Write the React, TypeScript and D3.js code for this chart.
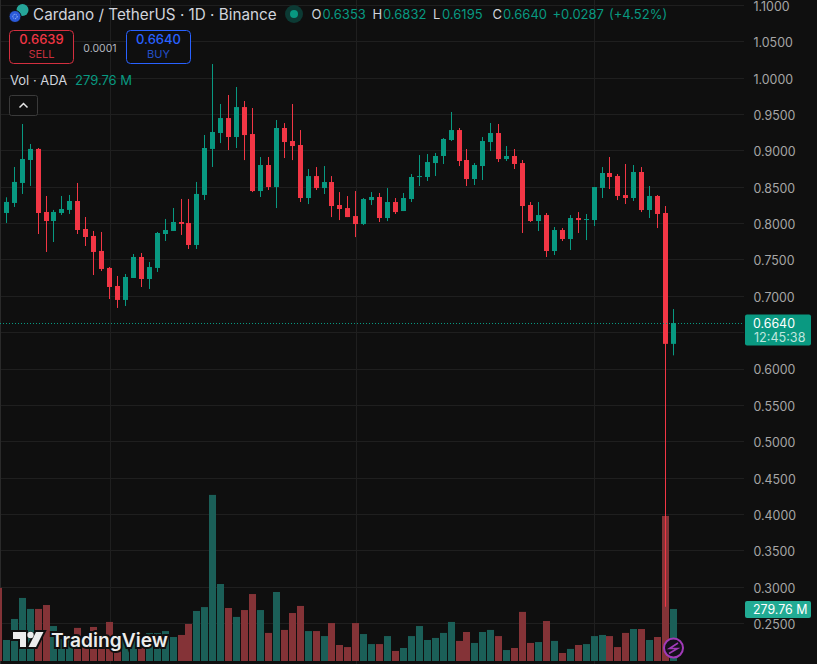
import { useEffect, useRef } from "react";
import * as d3 from "d3";

const opens = [
  0.8153, 0.8291, 0.8566, 0.8882, 0.9034, 0.8167, 0.8043, 0.8153, 0.8195, 0.8318,
  0.7933, 0.7837, 0.7631, 0.7397, 0.7149, 0.6957, 0.7259, 0.7548, 0.7245, 0.7397,
  0.7864, 0.7906, 0.8029, 0.8016, 0.7713, 0.8401, 0.9034, 0.9253, 0.9459, 0.9198,
  0.961, 0.9239, 0.8455, 0.8813, 0.851, 0.9322, 0.9143, 0.9088, 0.8359, 0.8661,
  0.8496, 0.8579, 0.8263, 0.8221, 0.8111, 0.8001, 0.8331, 0.8373, 0.8084, 0.8304,
  0.818, 0.8345, 0.8648, 0.8648, 0.884, 0.8937, 0.9157, 0.9294, 0.8882, 0.862,
  0.8799, 0.9129, 0.9253, 0.8895, 0.8937, 0.884, 0.8263, 0.8043, 0.8125, 0.763,
  0.7919, 0.7795, 0.8084, 0.8061, 0.8056, 0.8497, 0.8703, 0.8662, 0.84, 0.8359,
  0.8717, 0.8194, 0.8387, 0.8153, 0.6353,
];
const highs = [
  0.8369, 0.8786, 0.9377, 0.9102, 0.9047, 0.8387, 0.8195, 0.8387, 0.8401, 0.8566,
  0.8098, 0.7906, 0.7892, 0.741, 0.7287, 0.7314, 0.7589, 0.7603, 0.7479, 0.7892,
  0.8071, 0.8222, 0.8346, 0.8346, 0.858, 0.9226, 1.0202, 0.9652, 0.9776, 0.9886,
  0.9693, 0.9597, 0.8923, 0.8923, 0.9432, 0.939, 0.9652, 0.9294, 0.8758, 0.8785,
  0.8799, 0.8661, 0.8441, 0.8386, 0.8455, 0.8359, 0.8441, 0.8428, 0.8496, 0.8359,
  0.8428, 0.8689, 0.895, 0.8964, 0.8978, 0.9184, 0.9542, 0.9322, 0.9033, 0.884,
  0.9198, 0.9391, 0.9377, 0.9074, 0.9033, 0.8882, 0.8304, 0.8304, 0.8153, 0.796,
  0.7946, 0.8125, 0.8166, 0.8139, 0.851, 0.8785, 0.8923, 0.8689, 0.8827, 0.8813,
  0.8785, 0.8524, 0.84, 0.8249, 0.6832,
];
const lows = [
  0.8016, 0.8236, 0.8415, 0.8525, 0.7864, 0.7617, 0.7754, 0.8126, 0.814, 0.7864,
  0.7699, 0.73, 0.7355, 0.697, 0.6847, 0.6874, 0.7259, 0.7135, 0.7108, 0.7342,
  0.7768, 0.7906, 0.7851, 0.7658, 0.7658, 0.8332, 0.8786, 0.9115, 0.9019, 0.9047,
  0.8881, 0.8441, 0.8373, 0.8469, 0.8221, 0.8909, 0.8881, 0.8304, 0.8276, 0.8469,
  0.8414, 0.8097, 0.8056, 0.8097, 0.7822, 0.7987, 0.8263, 0.8029, 0.8042, 0.8139,
  0.818, 0.8304, 0.8524, 0.8593, 0.8662, 0.8827, 0.9143, 0.8799, 0.8524, 0.8538,
  0.8607, 0.9006, 0.8854, 0.8868, 0.8758, 0.7878, 0.8029, 0.7905, 0.7548, 0.7575,
  0.7768, 0.7644, 0.7878, 0.7781, 0.7974, 0.8359, 0.8483, 0.8331, 0.8277, 0.8318,
  0.8166, 0.8084, 0.7946, 0.2737, 0.6195,
];
const closes = [
  0.8305, 0.858, 0.8896, 0.9034, 0.8153, 0.8043, 0.8167, 0.8208, 0.8318, 0.7919,
  0.7823, 0.7617, 0.7383, 0.7135, 0.6957, 0.7273, 0.7548, 0.7245, 0.741, 0.7878,
  0.7919, 0.8029, 0.8002, 0.7713, 0.8415, 0.9047, 0.9267, 0.9459, 0.9198, 0.961,
  0.9225, 0.8455, 0.8813, 0.851, 0.9322, 0.9129, 0.9074, 0.8359, 0.8661, 0.8496,
  0.8579, 0.8249, 0.8208, 0.8097, 0.8001, 0.8345, 0.8373, 0.8084, 0.8304, 0.8166,
  0.8359, 0.8648, 0.8661, 0.8854, 0.8937, 0.9171, 0.9294, 0.8868, 0.862, 0.8813,
  0.9143, 0.9253, 0.8895, 0.8937, 0.8827, 0.8249, 0.8043, 0.8125, 0.763, 0.7919,
  0.7795, 0.8084, 0.8056, 0.807, 0.851, 0.8703, 0.8648, 0.8387, 0.8359, 0.8717,
  0.8194, 0.8387, 0.8139, 0.6353, 0.664,
];
// millions of ADA, the bars hidden behind the logo are estimates
const volumes = [
  113, 226, 339, 280, 280, 301, 188, 118, 118, 178,
  118, 183, 145, 210, 90, 118, 118, 74, 150, 150,
  161, 129, 140, 199, 269, 290, 893, 414, 285, 237,
  274, 360, 274, 151, 371, 167, 258, 296, 161, 161,
  134, 204, 86, 75, 204, 145, 91, 91, 134, 54,
  70, 134, 188, 113, 124, 151, 210, 108, 156, 97,
  156, 167, 134, 59, 70, 264, 97, 102, 215, 108,
  43, 65, 86, 91, 134, 140, 134, 75, 151, 172,
  172, 113, 129, 780, 279.76,
];
const clippedDayVolume = 393;
const priceTicks = [
  1.1, 1.05, 1.0, 0.95, 0.9, 0.85, 0.8, 0.75, 0.7, 0.65, 0.6, 0.55, 0.5, 0.45, 0.4,
  0.35, 0.3, 0.25,
];
const visibleTicks = priceTicks.filter((t) => t !== 0.65);
const gridDays = [13, 44, 74];
const lastPrice = 0.664;
const lastVolume = 279.76;

const UP = "#089981";
const DOWN = "#f23645";
const VOL_UP = "#1b5f58";
const VOL_DOWN = "#843337";
const BG = "#0f0f0f";
const GRID = "#1f1f1f";
const LABEL = "#d1d4dc";
const FONT = "Inter, 'Noto Sans', sans-serif";

const width = 817;
const height = 664;

export default function App() {
  const chartRef = useRef<SVGGElement>(null);

  useEffect(() => {
    const root = d3.select(chartRef.current);
    root.selectAll("*").remove();

    const y = d3.scaleLinear().domain([1.1, 0.25]).range([6, 624]);
    const yVol = d3.scaleLinear().domain([0, 1000]).range([661, 475]);
    const days = d3.range(-1, opens.length);
    const x = d3.scalePoint<number>().domain(days).range([-1.64, 673.5]);

    // grid
    const grid = root.append("g").attr("stroke", GRID);
    grid
      .selectAll("line.h")
      .data(priceTicks)
      .enter()
      .append("line")
      .attr("x1", 0)
      .attr("x2", 744)
      .attr("y1", (d) => Math.round(y(d)) - 0.5)
      .attr("y2", (d) => Math.round(y(d)) - 0.5);
    grid
      .selectAll("line.v")
      .data(gridDays)
      .enter()
      .append("line")
      .attr("x1", (d) => Math.round(x(d)!) + 0.5)
      .attr("x2", (d) => Math.round(x(d)!) + 0.5)
      .attr("y1", 0)
      .attr("y2", height);
    root
      .append("line")
      .attr("x1", 0.5)
      .attr("x2", 0.5)
      .attr("y1", 0)
      .attr("y2", height)
      .attr("stroke", "#2a2a2a");

    // volume
    const volGroup = root.append("g");
    volGroup
      .append("rect")
      .attr("x", Math.round(x(-1)! - 3.5))
      .attr("width", 7)
      .attr("y", yVol(clippedDayVolume))
      .attr("height", 661 - yVol(clippedDayVolume))
      .attr("fill", VOL_DOWN);
    volGroup
      .selectAll("rect.vol")
      .data(volumes)
      .enter()
      .append("rect")
      .attr("x", (_, i) => Math.round(x(i)! - 3.5))
      .attr("width", 7)
      .attr("y", (d) => yVol(d))
      .attr("height", (d) => 661 - yVol(d))
      .attr("fill", (_, i) => (closes[i] >= opens[i] ? VOL_UP : VOL_DOWN));

    // candles
    const candle = root
      .selectAll("g.candle")
      .data(opens)
      .enter()
      .append("g")
      .attr("fill", (o, i) => (closes[i] >= o ? UP : DOWN));
    candle
      .append("rect")
      .attr("x", (_, i) => Math.round(x(i)! - 2.5) + 2)
      .attr("width", 1)
      .attr("y", (_, i) => y(highs[i]))
      .attr("height", (_, i) => y(lows[i]) - y(highs[i]));
    candle
      .append("rect")
      .attr("x", (_, i) => Math.round(x(i)! - 2.5))
      .attr("width", 5)
      .attr("y", (o, i) => y(Math.max(o, closes[i])))
      .attr("height", (o, i) => Math.max(1, Math.abs(y(o) - y(closes[i]))));

    // last price line
    root
      .append("line")
      .attr("x1", 0)
      .attr("x2", 744)
      .attr("y1", Math.round(y(lastPrice)) + 0.5)
      .attr("y2", Math.round(y(lastPrice)) + 0.5)
      .attr("stroke", UP)
      .attr("stroke-dasharray", "1 2");

    // price axis
    const axis = d3
      .axisRight(y)
      .tickValues(visibleTicks)
      .tickFormat(d3.format(".4f") as any)
      .tickSize(0)
      .tickPadding(0);
    const axisGroup = root
      .append("g")
      .attr("transform", "translate(753.5,0.5)")
      .call(axis as any);
    axisGroup.select(".domain").remove();
    axisGroup
      .selectAll("text")
      .attr("fill", "#a6a6a6")
      .attr("font-family", FONT)
      .attr("font-size", 12.4);

    // price and volume tags
    const tags = root.append("g").attr("font-family", FONT);
    tags
      .append("rect")
      .attr("x", 745)
      .attr("y", y(lastPrice) - 8.5)
      .attr("width", 66)
      .attr("height", 31)
      .attr("rx", 2)
      .attr("fill", "#0a9981");
    tags
      .append("text")
      .attr("x", 753)
      .attr("y", y(lastPrice) + 5)
      .attr("font-size", 12.4)
      .attr("fill", "#fff")
      .text(d3.format(".4f")(lastPrice));
    tags
      .append("text")
      .attr("x", 754)
      .attr("y", y(lastPrice) + 19)
      .attr("font-size", 12.6)
      .attr("fill", "#bfe6df")
      .text("12:45:38");
    tags
      .append("rect")
      .attr("x", 745)
      .attr("y", yVol(lastVolume) - 8)
      .attr("width", 66)
      .attr("height", 17)
      .attr("rx", 2)
      .attr("fill", "#22ab94");
    tags
      .append("text")
      .attr("x", 753)
      .attr("y", yVol(lastVolume) + 5)
      .attr("font-size", 12.4)
      .attr("fill", "#fff")
      .text(`${lastVolume} M`);
  }, []);

  return (
    <svg
      width={width}
      height={height}
      style={{ position: "absolute", left: 0, top: 0, display: "block", background: BG }}
      fontFamily={FONT}
    >
      <g ref={chartRef} />

      {/* symbol icons */}
      <circle cx={22.5} cy={10} r={6} fill="#26a69a" />
      <circle cx={15} cy={16.5} r={6} fill="#2a5ada" stroke={BG} strokeWidth={1} />
      <circle cx={15} cy={16.5} r={2.2} fill="none" stroke="#cfe0ff" strokeWidth={0.8} strokeDasharray="1 1" />

      <text x={33} y={20} fontSize={15.25} fill={LABEL}>
        Cardano / TetherUS · 1D · Binance
      </text>
      <circle cx={294} cy={14} r={9} fill="#0c3a34" />
      <circle cx={294} cy={14} r={4} fill={UP} />
      <g fontSize={13} fill={UP}>
        <text x={311.5} y={19} fill={LABEL}>O</text>
        <text x={322.5} y={19}>0.6353</text>
        <text x={372.5} y={19} fill={LABEL}>H</text>
        <text x={383} y={19}>0.6832</text>
        <text x={433} y={19} fill={LABEL}>L</text>
        <text x={442} y={19}>0.6195</text>
        <text x={492.5} y={19} fill={LABEL}>C</text>
        <text x={503} y={19}>0.6640</text>
        <text x={552.5} y={19}>+0.0287</text>
        <text x={609} y={19}>(+4.52%)</text>
      </g>

      {/* sell / buy */}
      <rect x={9.5} y={30.5} width={64} height={33} rx={4} fill={BG} stroke="#d32f3f" />
      <text x={41.5} y={44} textAnchor="middle" fontSize={13} fontWeight={500} fill={DOWN}>
        0.6639
      </text>
      <text x={41.5} y={58} textAnchor="middle" fontSize={11} fill="#c9303e">
        SELL
      </text>
      <text x={100} y={51.5} textAnchor="middle" fontSize={10.5} fill="#b2b5be">
        0.0001
      </text>
      <rect x={126.5} y={30.5} width={64} height={33} rx={4} fill={BG} stroke="#2962ff" />
      <text x={158.5} y={44} textAnchor="middle" fontSize={13} fontWeight={500} fill="#2962ff">
        0.6640
      </text>
      <text x={158.5} y={58} textAnchor="middle" fontSize={11} fill="#2450c8">
        BUY
      </text>

      <text x={10} y={85} fontSize={13} fill={LABEL}>
        Vol · ADA
      </text>
      <text x={75} y={85} fontSize={13} fill={UP}>
        279.76 M
      </text>
      <rect x={9.5} y={95.5} width={28} height={20} rx={2} fill={BG} stroke="#3a3a3a" />
      <path d="M19.5 107.5 L23.5 103.5 L27.5 107.5" fill="none" stroke="#e6e6e6" strokeWidth={1.5} />

      {/* TradingView logo */}
      <g>
        <path
          d="M13 632 H26 V647 H20 V639 H13 Z M36 632 H43.5 L36 647 H28.5 Z"
          fill="#ececec"
          stroke={BG}
          strokeWidth={4}
          paintOrder="stroke"
        />
        <circle cx={30.5} cy={635} r={3.2} fill="#ececec" stroke={BG} strokeWidth={1} paintOrder="stroke" />
        <text
          x={51}
          y={647}
          fontSize={19.2}
          fontWeight={600}
          fill="#ececec"
          stroke={BG}
          strokeWidth={4}
          paintOrder="stroke"
        >
          TradingView
        </text>
      </g>

      {/* bolt */}
      <circle cx={673.5} cy={648} r={9.5} fill="#14101a" stroke="#a13ab8" strokeWidth={2} />
      <path d="M678 643 L669.5 648.5 H677.5 L669 653.5" fill="none" stroke="#a13ab8" strokeWidth={1.6} />
    </svg>
  );
}
